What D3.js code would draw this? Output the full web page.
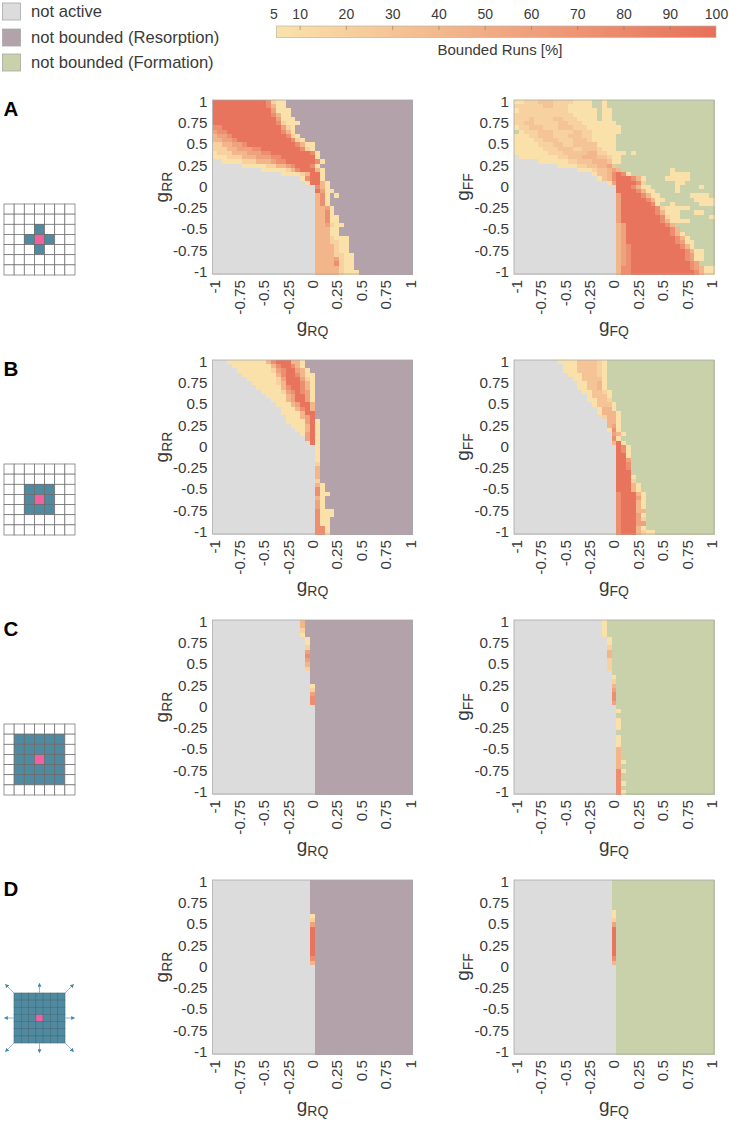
<!DOCTYPE html>
<html><head><meta charset="utf-8">
<script src="https://cdn.jsdelivr.net/npm/d3@7"></script>
<style>
html,body{margin:0;padding:0;background:#fff}
svg{display:block;font-family:"Liberation Sans",Arial,sans-serif}
</style></head><body><div id="c"></div>
<script>
// Cell codes: g = not active, n = not bounded, a..k = bounded-run percentage (see levelValues).
// Each row is run-length coded from g = -1 upward; whatever remains of the row is "n".
const levelValues = {a:6, b:18, k:30, c:42, d:58, e:75, h:97};
const legendLabels = ["not active","not bounded (Resorption)","not bounded (Formation)"];
const colorbarTicks = [5,10,20,30,40,50,60,70,80,90,100];
const tickLabels = [-1,-0.75,-0.5,-0.25,0,0.25,0.5,0.75,1];
const panelLetters = ["A","B","C","D"];
const blueCellsPerPanel = [
  [[-1,0],[1,0],[0,-1],[0,1]],
  [[-1,-1],[0,-1],[1,-1],[-1,0],[1,0],[-1,1],[0,1],[1,1]],
  d3.cross(d3.range(-2,3),d3.range(-2,3)),
  d3.cross(d3.range(-3,4),d3.range(-3,4))
];

const A_RQ = ["h11 e1 b1 a2","h11 e1 c1 a2","h12 d1 a3","h12 e1 c1 a2","h13 d1 a3","h13 e1 b1 a3","e2 h12 d1 b1 a1","d1 e2 h11 e1 c1 a1","c1 d2 e1 h11 e1 b1 a1","c2 d2 e1 h11 e1 b1 a1",
"b2 c2 d2 e1 h10 e1 c1 a2","b3 c2 d3 e2 h8 e1 b1 a1","a1 b3 c3 d3 e2 h8 e1 a1","a3 b3 c3 d3 e2 h7 a1","g2 a4 b3 c3 d1 e2 h6 e1 a1","g6 a5 b2 c2 d1 e1 h3 e1 a1","g10 a5 b1 c1 e1 h3 c1 a1","g14 a4 b1 c1 h2 a1","g18 a1 e1 h2 a1","g19 a1 h2 c1 a1",
"g21 e1 c1 a1","g21 h1 d1 a2","g21 c1 e1 a1 n1 a1","g21 c1 e1 a1","g21 c1 e1 a1","g21 c2 d1 a1","g21 c2 e1 a1","g21 c2 e1 a2","g21 c2 e1 a2","g21 c2 d1 b1 a2",
"g21 c3 a2","g21 c3 a2","g21 c3 b1 a3","g21 c3 b2 a2","g21 c4 b1 a2","g21 c4 b1 a2","g21 c4 b2 a2","g21 c4 d1 b1 a2","g21 c4 e1 b1 a2","g21 c5 b1 a2","g21 c5 b1 a3"];

const A_FQ = ["a2 b3 k3 b4 a4 n2 a1","b6 k2 b3 a5 n2 a1","a1 b10 a6 n1 a2","b12 a5 n1 a2","b3 k1 b4 k2 b3 a4 n1 a2","b2 k2 b5 k2 b3 a7","a1 b2 k3 b3 k3 b3 a7","n1 a1 b3 k3 b4 k2 b2 a6","a3 b2 k3 b3 k3 b2 a5","a4 b2 k3 b3 k3 b1 a5",
"a5 b3 k2 b2 k5 a4","a6 b3 k3 b2 k3 b1 a3","a7 b3 k5 c2 b2 a4 n1 a1","g1 a8 b2 k3 c3 k2 b1 a2","g5 a6 b2 k3 c3 k1 a2","g9 a4 b2 k2 c2 d1 k1","g13 a3 b1 k2 c1 d1 c1 n10 a1","g16 a1 k2 c1 e1 h1 e1 a1 n8 a4","g17 a1 k1 c1 e1 h3 e1 c1 a1 n4 a5","g19 a1 d1 h4 e1 b1 n6 a2",
"g21 h3 e1 c1 a2 n5 a1 n4 a1","g21 h4 e1 c1 a2 n4 a1","g21 d1 h4 e1 c1 a2 n6 a4","g21 d1 h5 e1 c1 a2 n6 a4","g21 d1 h6 e1 a1 n2 a1 n5 a3","g21 d1 h7 e1 b1 a5","g21 d1 h7 e1 c1 a3 n3 a2","g21 d1 h8 e1 b1 a2 n6 a1","g21 d1 h8 e1 c1 a4","g21 c1 d1 h8 e1 c1",
"g21 c1 d1 h9 e1 c1","g21 c1 d1 h9 e1 c1 a1","g21 c1 d1 h10 e1 c1 a1","g21 c1 d1 h10 e1 d1 a2","g21 c1 d1 e1 h10 e1 c1 a1","g21 c1 d1 e1 h11 e1 c1 a2","g21 c1 d1 e1 h11 e1 d1 a2","g21 c1 d1 e1 h11 e1 d1 a2","g21 c1 d1 e1 h12 e1 d1","g21 c1 e2 h12 e1 d1 c1 a2","g21 c1 e2 h13 e1 c1 a2"];

const B_RQ = ["g3 a8 c1 e1 h3 c2 a1","g4 a8 c1 e1 h2 e1 c1 a1","g5 a7 b1 d1 e1 h2 d1 c1 a1","g6 a7 c1 e1 h2 e1 c1 a2","g7 a6 b1 d1 h3 d1 b1 a1","g8 a5 b1 c1 h3 e1 c1 a1","g9 a5 c1 e1 h2 e1 c1 a1","g10 a4 b1 d1 e1 h1 e1 d1 a1","g11 a4 c1 d1 h2 d1 a1","g12 a3 c1 d1 h2 d1 a1",
"g13 a3 c1 d1 h2 c1","g14 a3 c1 e1 h1 c1","g14 a4 c1 h2","g15 a3 c1 d1 h1","g15 a4 d1 h1 a1","g16 a3 c1 h1 a1","g17 a2 c1 h1 a1","g18 a1 d1 h1 a1","g19 d1 h1 a1","g20 h1 a1",
"g21 a1","g21 a1","g21 a1","g21 a1","g21 b1","g21 c1","g21 c1","g21 c1","g21 b1","g21 c1 a1",
"g21 e1 a1","g21 e1 a2","g21 c1 a1","g21 d1 a1","g21 d1 a1","g21 e1 a3","g21 e1 a3","g21 e1 a2","g21 e1 a2","g21 e2 a1","g21 e2 a1"];

const B_FQ = ["g9 a4 k4 b1 a1","g10 a3 k4 b1 a1","g10 a3 k4 b1 a1","g11 a3 k3 b1 a1","g12 a2 k4 a1","g13 a2 k2 c1 a1","g13 a2 k2 c1 a1","g14 a2 k2 b1 a1","g15 a1 k3 a1","g15 a2 k2 b1",
"g16 a1 k3 a1","g17 a1 c2 a1","g17 a1 c3 a1","g18 b1 c2 a1","g19 c2 a1","g19 c1 d1 a1","g19 a1 e1 a1","g20 d1 c1 a1","g20 e1 a1","g20 c1 h1 a1",
"g21 h1 e1 a1","g21 h1 e1 a1","g21 h2 a1","g21 h2 d1","g21 h2 e1","g21 h2 e1","g21 h3","g21 h3 a1","g21 h3 b1","g21 h3 c1 a1",
"g21 h3 c1 a1","g21 e1 h3 c1 a1","g21 e1 h3 d1 a1","g21 e1 h3 c1 a1","g21 e1 h3 c1 a1","g21 e1 h3 c2","g21 e1 h3 d1 a1","g21 e1 h3 d1 b1","g21 e1 h3 d2","g21 e1 h3 c1 a1","g21 e1 h3 c1 b1 a2"];

const C_RQ = ["g18 c1","g18 c1","g18 b1","g18 a1","g19 a1","g19 a1","g19 b1","g19 d1","g19 e1","g19 d1",
"g19 c1","g19 b1","g20","g20","g20","g20 a1","g20 b1","g20 d1","g20 e1","g20 e1",
"g21","g21","g21","g21","g21","g21","g21","g21","g21","g21",
"g21","g21","g21","g21","g21","g21","g21","g21","g21","g21","g21"];

const C_FQ = ["g18 a1","g18 a1","g18 a1","g18 a1","g19 a1","g19 a1","g19 b1","g19 c1","g19 c1","g19 b1",
"g19 b1","g19 b1","g20 n1","g20 a1","g20 b1","g20 c1","g20 d1","g20 e1","g20 e1","g20 d1",
"g21","g21 a1","g21","g21 a1","g21 a1","g21 a1","g21","g21 a1","g21 a1","g21 a1",
"g21 c1","g21 c1","g21 c1","g21 c1 a1","g21 c1","g21 e1 a1","g21 e1","g21 e1","g21 e1 a1","g21 e1","g21 e1 a1"];

const D_RQ = ["g20","g20","g20","g20","g20","g20","g20","g20","g20 a1","g20 b1",
"g20 d1","g20 h1","g20 h1","g20 h1","g20 h1","g20 h1","g20 h1","g20 h1","g20 e1","g20 c1",
"g21","g21","g21","g21","g21","g21","g21","g21","g21","g21",
"g21","g21","g21","g21","g21","g21","g21","g21","g21","g21","g21"];

const D_FQ = ["g20","g20","g20","g20","g20","g20","g20","g20 a1","g20 a1","g20 b1",
"g20 d1","g20 h1","g20 h1","g20 h1","g20 h1","g20 h1","g20 h1","g20 h1","g20 e1","g20 c1",
"g21","g21","g21","g21","g21","g21","g21","g21","g21","g21",
"g21","g21","g21","g21","g21","g21","g21","g21","g21","g21","g21"];

const panelRows = [[A_RQ,A_FQ],[B_RQ,B_FQ],[C_RQ,C_FQ],[D_RQ,D_FQ]];

// ---- style ----
const W=729,H=1121,GRAY="#dcdcdc",PURPLE="#b3a2a9",GREEN="#c9d1ab",PALE="#fae2ab",RED="#e7705a",INK="#3a3a3a",BLUE="#4f8aa1",PINK="#f2619f";
const topY=[100,360,620,880], leftX=[212.5,514], plotW=200, plotH=174;
const cols=[["g","RQ","g","RR",PURPLE],["g","FQ","g","FF",GREEN]];
const color=d3.scaleLinear().domain([5,100]).range([PALE,RED]);

const svg=d3.select("#c").append("svg").attr("width",W).attr("height",H);

// ---- legend ----
[GRAY,PURPLE,GREEN].forEach((c,i)=>{
  const y=[3,29,54][i];
  svg.append("rect").attr("x",2.5).attr("y",y).attr("width",18).attr("height",17).attr("fill",c).attr("stroke","#a8a8a8").attr("stroke-width",0.8);
  svg.append("text").attr("x",31).attr("y",y+13.5).attr("font-size",16.6).attr("fill",INK).text(legendLabels[i]);
});

// ---- colour bar ----
const cbX=d3.scaleLinear().domain([5,100]).range([276.5,716]);
const grad=svg.append("defs").append("linearGradient").attr("id","cb");
grad.selectAll("stop").data(d3.range(5,101,5)).join("stop").attr("offset",d=>(d-5)/95).attr("stop-color",d=>color(d));
svg.append("rect").attr("x",276.5).attr("y",26).attr("width",439.5).attr("height",11.5).attr("fill","url(#cb)").attr("stroke","#b8b8a8").attr("stroke-width",0.7);
const cbAxis=d3.axisTop(cbX).tickValues(colorbarTicks).tickFormat(d3.format("d")).tickSize(0).tickPadding(7);
const cbg=svg.append("g").attr("transform","translate(0,26)").call(cbAxis);
cbg.select(".domain").remove();
cbg.selectAll("text").attr("font-size",14).attr("font-family",null).attr("fill",INK);
cbg.selectAll("line").attr("y2",4).attr("stroke","#8a7a6a").attr("stroke-width",0.6).filter(d=>d===5||d===100).remove();
cbg.selectAll(".tick").filter(d=>d===5).select("text").attr("dx",-3);
svg.append("text").attr("x",500).attr("y",55).attr("text-anchor","middle").attr("font-size",15).attr("fill",INK).text("Bounded Runs [%]");

// ---- heat maps ----
function decode(rows){
  const cells=[];
  rows.forEach((s,r)=>{
    let c=0;
    s.split(" ").forEach(tok=>{
      const code=tok[0],n=+tok.slice(1);
      for(let k=0;k<n;k++) cells.push({r,c:c++,code});
    });
    while(c<41) cells.push({r,c:c++,code:"n"});
  });
  return cells;
}
const idx=d3.range(41);
panelRows.forEach((pair,pi)=>{
  pair.forEach((rows,ci)=>{
    const [xg,xs,yg,ys,nb]=cols[ci];
    const x=d3.scaleBand().domain(idx).range([leftX[ci],leftX[ci]+plotW]);
    const y=d3.scaleBand().domain(idx).range([topY[pi],topY[pi]+plotH]);
    const g=svg.append("g");
    g.selectAll("rect").data(decode(rows)).join("rect")
      .attr("x",d=>x(d.c)).attr("y",d=>y(d.r)).attr("width",x.bandwidth()+0.5).attr("height",y.bandwidth()+0.5)
      .attr("shape-rendering","crispEdges")
      .attr("fill",d=>d.code==="g"?GRAY:d.code==="n"?nb:color(levelValues[d.code]));
    g.append("rect").attr("x",leftX[ci]).attr("y",topY[pi]).attr("width",plotW).attr("height",plotH)
      .attr("fill","none").attr("stroke","#a8a8a8").attr("stroke-width",0.8);

    const tickIdx=tickLabels.map((_,i)=>i*5);
    const xa=d3.axisBottom(x).tickValues(tickIdx).tickFormat(i=>tickLabels[i/5]).tickSize(0);
    const xg_=svg.append("g").attr("transform",`translate(0,${topY[pi]+plotH})`).call(xa);
    xg_.select(".domain").remove();
    xg_.selectAll("text").attr("font-size",15.2).attr("font-family",null).attr("fill",INK)
      .attr("transform","rotate(-90)").attr("text-anchor","end").attr("x",-6).attr("y",0).attr("dy","0.36em");
    const ya=d3.axisLeft(y).tickValues(tickIdx).tickFormat(i=>tickLabels[8-i/5]).tickSize(0).tickPadding(5);
    const yg_=svg.append("g").attr("transform",`translate(${leftX[ci]},0)`).call(ya);
    yg_.select(".domain").remove();
    yg_.selectAll("text").attr("font-size",15.2).attr("font-family",null).attr("fill",INK);

    const xl=svg.append("text").attr("x",leftX[ci]+plotW/2).attr("y",topY[pi]+plotH+58).attr("text-anchor","middle").attr("font-size",19).attr("fill",INK);
    xl.append("tspan").text(xg);
    xl.append("tspan").attr("font-size",14).attr("dy",4).text(xs);
    const yl=svg.append("text").attr("transform",`translate(${leftX[ci]-45},${topY[pi]+plotH/2}) rotate(-90)`).attr("text-anchor","middle").attr("font-size",19).attr("fill",INK);
    yl.append("tspan").text(yg);
    yl.append("tspan").attr("font-size",14).attr("dy",4).text(ys);
  });
  svg.append("text").attr("x",3.5).attr("y",topY[pi]+16).attr("font-size",20.5).attr("font-weight","bold").attr("fill","#000").text(panelLetters[pi]);
});

// ---- lattice schematics ----
const iconTop=[204,464,724];
const gridN=d3.range(-3,4);
[0,1,2].forEach(pi=>{
  const sx=d3.scaleBand().domain(gridN).range([4,75]);
  const sy=d3.scaleBand().domain(gridN).range([iconTop[pi],iconTop[pi]+71]);
  const g=svg.append("g");
  g.selectAll("rect.cell").data(d3.cross(gridN,gridN)).join("rect").attr("class","cell")
    .attr("x",d=>sx(d[0])).attr("y",d=>sy(d[1])).attr("width",sx.bandwidth()).attr("height",sy.bandwidth())
    .attr("fill",d=>d[0]===0&&d[1]===0?PINK:blueCellsPerPanel[pi].some(b=>b[0]===d[0]&&b[1]===d[1])?BLUE:"#fff")
    .attr("stroke","#6a6a6a").attr("stroke-width",0.7);
});
{
  const sx=d3.scaleBand().domain(gridN).range([14,65]);
  const sy=d3.scaleBand().domain(gridN).range([993,1043]);
  const g=svg.append("g");
  g.selectAll("rect").data(blueCellsPerPanel[3]).join("rect")
    .attr("x",d=>sx(d[0])).attr("y",d=>sy(d[1])).attr("width",sx.bandwidth()).attr("height",sy.bandwidth())
    .attr("fill",d=>d[0]===0&&d[1]===0?PINK:BLUE).attr("stroke","#456a7c").attr("stroke-width",0.6);
  const defs=svg.select("defs");
  defs.append("marker").attr("id","ah").attr("viewBox","0 0 6 6").attr("refX",5).attr("refY",3).attr("markerWidth",5).attr("markerHeight",5).attr("orient","auto")
    .append("path").attr("d","M0,0L6,3L0,6Z").attr("fill","#3f8aa6");
  const dirs=[[0,-1],[0,1],[-1,0],[1,0],[-1,-1],[1,-1],[-1,1],[1,1]];
  const cx=39.5,cy=1018;
  dirs.forEach(([dx,dy])=>{
    const x1=cx+dx*25.5, y1=cy+dy*25, x2=x1+dx*(dy?8.5:9.5), y2=y1+dy*(dx?8.5:9.5);
    g.append("line").attr("x1",x1).attr("y1",y1).attr("x2",x2).attr("y2",y2).attr("stroke","#7fa9ba").attr("stroke-width",0.8).attr("marker-end","url(#ah)");
  });
}
</script></body></html>
